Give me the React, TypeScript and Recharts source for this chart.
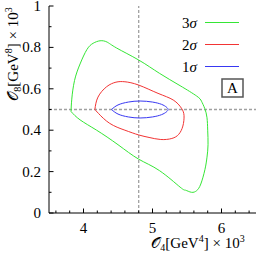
import { LineChart, Line, XAxis, YAxis, ReferenceLine } from "recharts";

// contour values (x = O4 * 10^3, y = O8 * 10^3)
const greenX = [3.82, 3.83, 3.87, 3.95, 4.05, 4.14, 4.24, 4.34, 4.48, 4.8, 5.1, 5.4, 5.64, 5.71, 5.757, 5.79, 5.8, 5.805, 5.79, 5.76, 5.7, 5.64, 5.565, 5.48, 5.4, 5.1, 4.8, 4.5, 4.19, 3.95, 3.82];
const greenY = [0.49, 0.55, 0.64, 0.72, 0.79, 0.82, 0.832, 0.826, 0.797, 0.739, 0.675, 0.615, 0.565, 0.54, 0.505, 0.46, 0.4, 0.33, 0.27, 0.21, 0.14, 0.108, 0.1, 0.11, 0.125, 0.205, 0.26, 0.33, 0.4, 0.45, 0.49];

const redX = [4.165, 4.21, 4.335, 4.47, 4.6, 4.8, 5.08, 5.3, 5.42, 5.457, 5.44, 5.38, 5.28, 5.12, 4.95, 4.8, 4.6, 4.38, 4.22, 4.165];
const redY = [0.5, 0.56, 0.61, 0.632, 0.634, 0.618, 0.578, 0.546, 0.506, 0.47, 0.42, 0.38, 0.36, 0.355, 0.365, 0.377, 0.4, 0.433, 0.48, 0.5];

const blueX = [4.407, 4.5, 4.65, 4.82, 5.0, 5.13, 5.2, 5.226, 5.2, 5.13, 5.0, 4.82, 4.65, 4.5, 4.407];
const blueY = [0.5, 0.522, 0.536, 0.541, 0.536, 0.525, 0.512, 0.5, 0.488, 0.475, 0.464, 0.459, 0.464, 0.478, 0.5];

const xTicks = [3.6, 3.8, 4, 4.2, 4.4, 4.6, 4.8, 5, 5.2, 5.4, 5.6, 5.8, 6, 6.2, 6.4];
const xMajor = [4, 5, 6];
const yTicks = [0, 0.1, 0.2, 0.3, 0.4, 0.5, 0.6, 0.7, 0.8, 0.9, 1];
const yMajor = [0, 0.2, 0.4, 0.6, 0.8, 1];

const bestX = 4.8;
const bestY = 0.5;

const series = [
  { name: "3", color: "#35e635", xs: greenX, ys: greenY },
  { name: "2", color: "#f23434", xs: redX, ys: redY },
  { name: "1", color: "#3838f2", xs: blueX, ys: blueY },
];

const toPoints = (xs: number[], ys: number[]) => xs.map((x, i) => ({ x, y: ys[i] }));

const FONT = '"Liberation Serif", "DejaVu Serif", serif';

function BottomTick({ x, y, payload }: any) {
  const major = xMajor.includes(payload.value);
  return (
    <g>
      <line x1={x} x2={x} y1={y} y2={y - (major ? 4.5 : 2.5)} stroke="#000" />
      {major && (
        <text x={x} y={y + 20} textAnchor="middle" fontSize={15} fontFamily={FONT} fill="#000">
          {payload.value}
        </text>
      )}
    </g>
  );
}

function TopTick({ x, y, payload }: any) {
  const major = xMajor.includes(payload.value);
  return <line x1={x} x2={x} y1={y} y2={y + (major ? 4.5 : 2.5)} stroke="#000" />;
}

function LeftTick({ x, y, payload }: any) {
  const major = yMajor.includes(payload.value);
  return (
    <g>
      <line x1={x} x2={x + (major ? 4.5 : 2.5)} y1={y} y2={y} stroke="#000" />
      {major && (
        <text x={x - 8} y={y + 5} textAnchor="end" fontSize={15} fontFamily={FONT} fill="#000">
          {payload.value}
        </text>
      )}
    </g>
  );
}

function RightTick({ x, y, payload }: any) {
  const major = yMajor.includes(payload.value);
  return <line x1={x} x2={x - (major ? 4.5 : 2.5)} y1={y} y2={y} stroke="#000" />;
}

function XTitle({ viewBox }: any) {
  const cx = viewBox.x + 149;
  const by = viewBox.y + 35;
  return (
    <text x={cx} y={by} textAnchor="middle" fontSize={15} fontFamily={FONT} fill="#000">
      <tspan>𝒪</tspan>
      <tspan fontSize={10} dy={3}>4</tspan>
      <tspan dy={-3}>[GeV</tspan>
      <tspan fontSize={10} dy={-6}>4</tspan>
      <tspan dy={6}>] × 10</tspan>
      <tspan fontSize={10} dy={-6}>3</tspan>
    </text>
  );
}

function YTitle({ viewBox }: any) {
  const cx = viewBox.x + 13;
  const cy = viewBox.y + 48;
  return (
    <text
      x={cx}
      y={cy + 5}
      transform={`rotate(-90, ${cx}, ${cy})`}
      textAnchor="middle"
      fontSize={15}
      fontFamily={FONT}
      fill="#000"
    >
      <tspan>𝒪</tspan>
      <tspan fontSize={10} dy={3}>8</tspan>
      <tspan dy={-3}>[GeV</tspan>
      <tspan fontSize={10} dy={-6}>8</tspan>
      <tspan dy={6}>] × 10</tspan>
      <tspan fontSize={10} dy={-6}>3</tspan>
    </text>
  );
}

export default function App() {
  return (
    <div style={{ position: "absolute", left: 0, top: 0, width: 257, height: 253, background: "#fff" }}>
      <LineChart width={257} height={253} margin={{ top: 6, right: 1, bottom: 0, left: 0 }}>
        <XAxis
          dataKey="x"
          type="number"
          domain={[3.5, 6.5]}
          ticks={xTicks}
          interval={0}
          height={40}
          tickSize={0}
          tickMargin={0}
          tickLine={false}
          axisLine={{ stroke: "#000" }}
          tick={<BottomTick />}
          label={(p: any) => <XTitle {...p} />}
        />
        <XAxis
          xAxisId="top"
          orientation="top"
          type="number"
          domain={[3.5, 6.5]}
          ticks={xTicks}
          interval={0}
          height={0}
          tickSize={0}
          tickMargin={0}
          tickLine={false}
          axisLine={{ stroke: "#000" }}
          tick={<TopTick />}
        />
        <YAxis
          type="number"
          domain={[0, 1]}
          ticks={yTicks}
          interval={0}
          width={49}
          tickSize={0}
          tickMargin={0}
          tickLine={false}
          axisLine={{ stroke: "#000" }}
          tick={<LeftTick />}
          label={(p: any) => <YTitle {...p} />}
        />
        <YAxis
          yAxisId="right"
          orientation="right"
          type="number"
          domain={[0, 1]}
          ticks={yTicks}
          interval={0}
          width={0}
          tickSize={0}
          tickMargin={0}
          tickLine={false}
          axisLine={{ stroke: "#000" }}
          tick={<RightTick />}
        />
        <ReferenceLine x={bestX} stroke="#a0a0a0" strokeWidth={1.3} strokeDasharray="3 2" />
        <ReferenceLine y={bestY} stroke="#a0a0a0" strokeWidth={1.3} strokeDasharray="3 2" />
        {series.map((s) => (
          <Line
            key={s.name}
            data={toPoints(s.xs, s.ys)}
            dataKey="y"
            type="natural"
            stroke={s.color}
            strokeWidth={1}
            dot={false}
            activeDot={false}
            isAnimationActive={false}
          />
        ))}
      </LineChart>
      <svg width={257} height={253} style={{ position: "absolute", left: 0, top: 0, pointerEvents: "none" }}>
        {series.map((s, i) => (
          <g key={s.name}>
            <text x={197} y={27.5 + i * 22} textAnchor="end" fontSize={15} fontFamily={FONT} fill="#000">
              {s.name}
              <tspan fontStyle="italic">σ</tspan>
            </text>
            <line x1={205} x2={239} y1={22.5 + i * 22} y2={22.5 + i * 22} stroke={s.color} strokeWidth={1} />
          </g>
        ))}
        <rect x={222} y={79} width={21} height={18} fill="#fff" stroke="#555" strokeWidth={1.5} />
        <text x={232.5} y={93} textAnchor="middle" fontSize={15} fontFamily={FONT} fill="#000">
          A
        </text>
      </svg>
    </div>
  );
}
